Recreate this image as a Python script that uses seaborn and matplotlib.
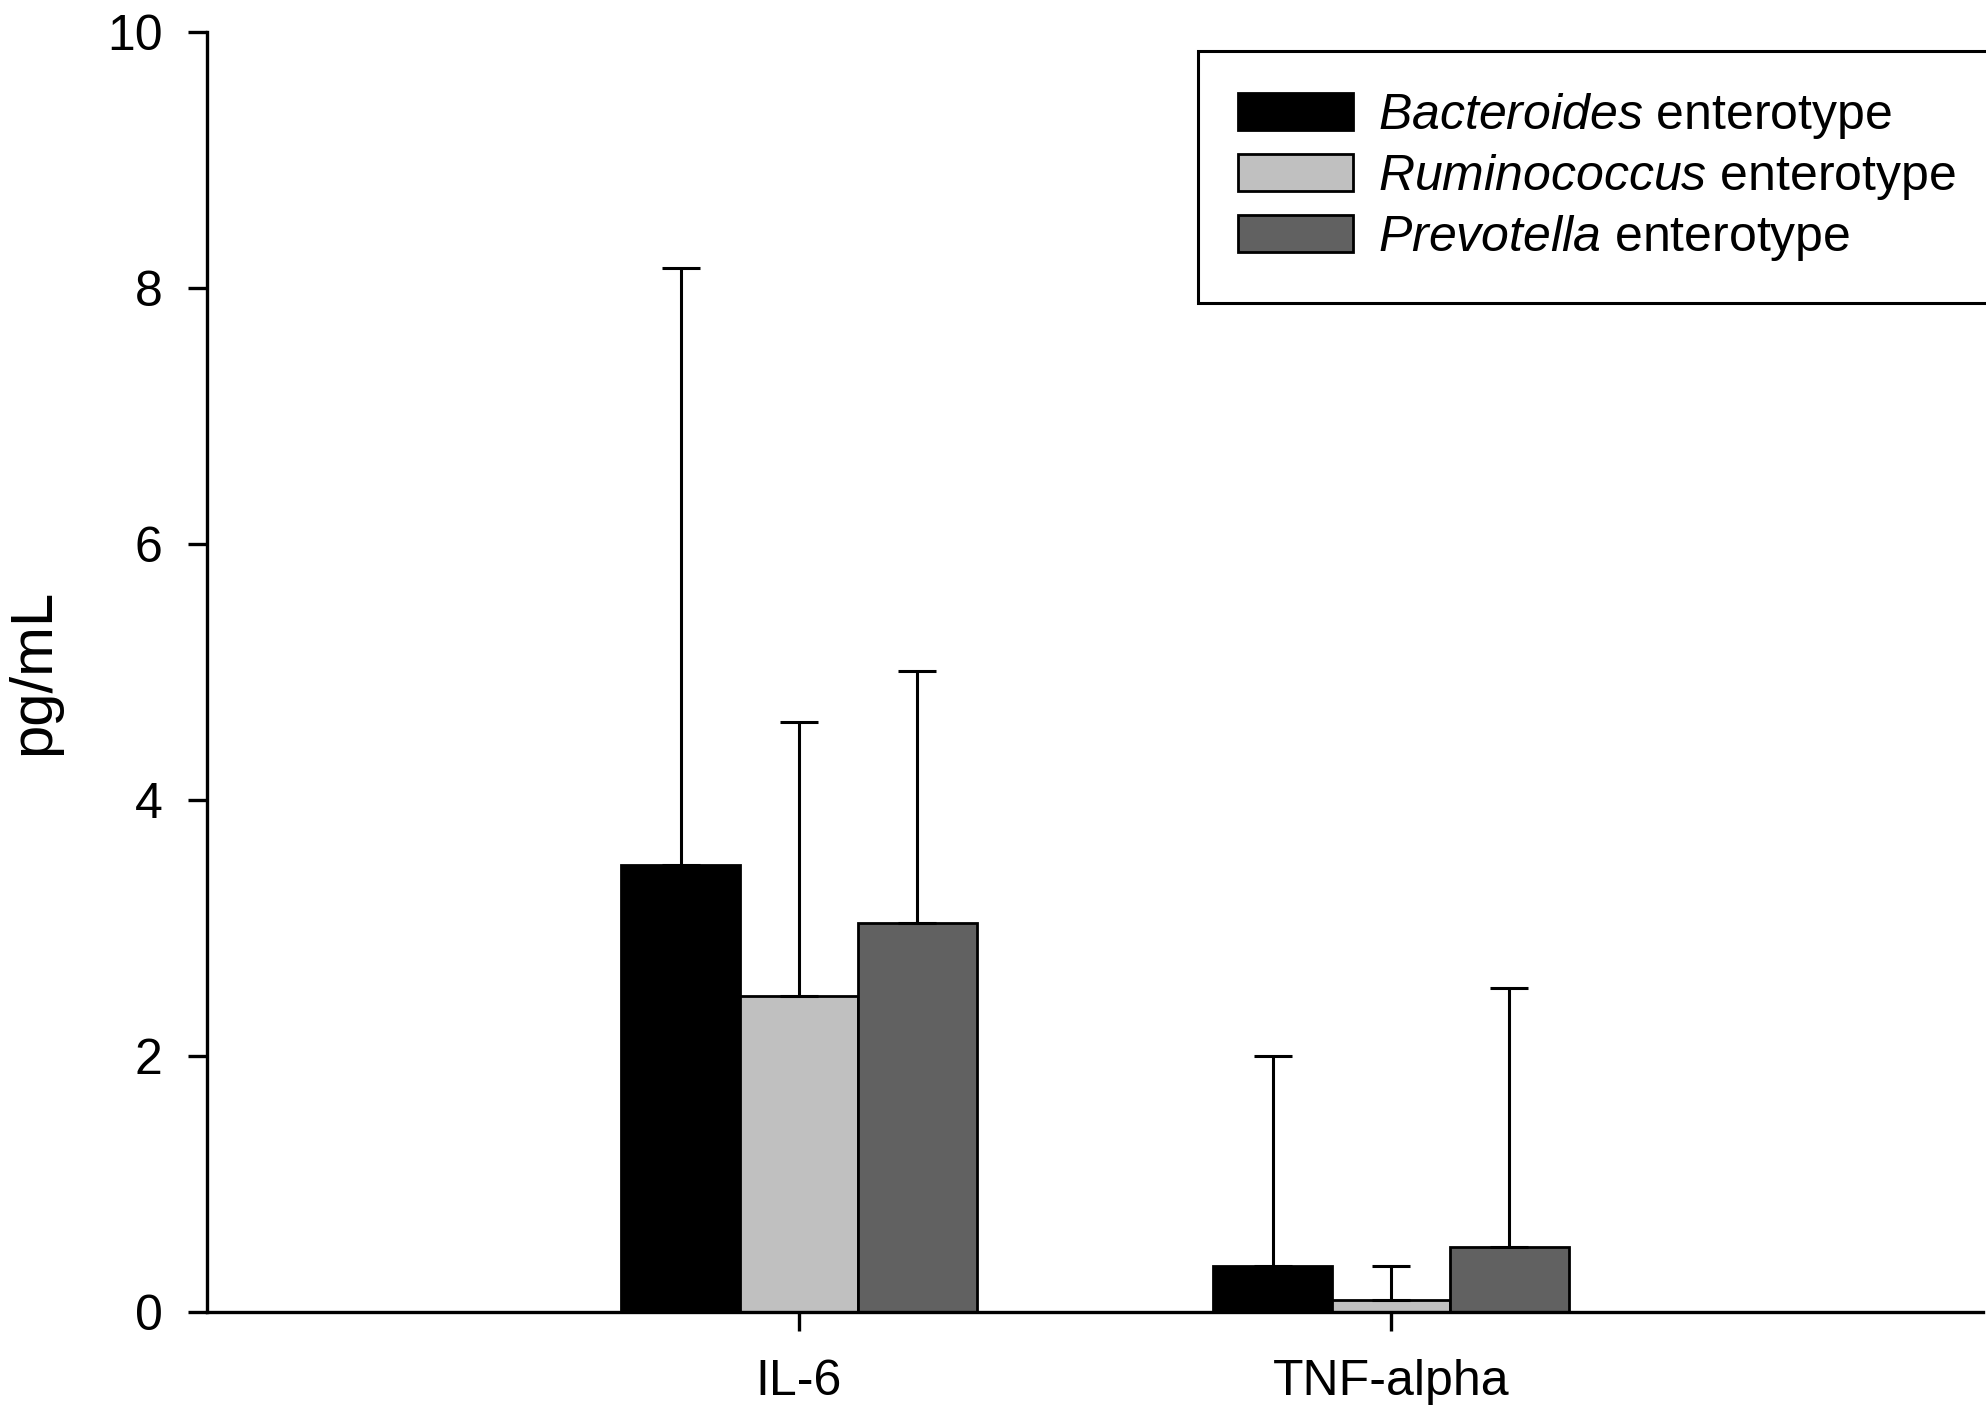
import numpy as np
import pandas as pd
import matplotlib
matplotlib.use("Agg")
import matplotlib.pyplot as plt
import seaborn as sns

# values (pg/mL, mean and upper SD)
cytokines = ["IL-6", "TNF-alpha"]
enterotypes = ["Bacteroides", "Ruminococcus", "Prevotella"]
bacteroides_mean = [3.49, 0.36]
ruminococcus_mean = [2.47, 0.09]
prevotella_mean = [3.04, 0.51]
bacteroides_sd = [4.67, 1.64]
ruminococcus_sd = [2.14, 0.27]
prevotella_sd = [1.97, 2.02]
bar_colors = ["#000000", "#c0c0c0", "#616161"]
y_ticks = [0, 2, 4, 6, 8, 10]

means = {"Bacteroides": bacteroides_mean, "Ruminococcus": ruminococcus_mean, "Prevotella": prevotella_mean}
sds = {"Bacteroides": bacteroides_sd, "Ruminococcus": ruminococcus_sd, "Prevotella": prevotella_sd}

rows = []
for ent in enterotypes:
    for i, cyt in enumerate(cytokines):
        rows.append({"cytokine": cyt, "enterotype": ent, "value": means[ent][i], "sd": sds[ent][i]})
df = pd.DataFrame(rows)

sns.set_style("ticks")
plt.rcParams["font.family"] = ["Liberation Sans", "DejaVu Sans"]
plt.rcParams["mathtext.fontset"] = "custom"
plt.rcParams["mathtext.rm"] = "Liberation Sans"
plt.rcParams["mathtext.it"] = "Liberation Sans:italic"
plt.rcParams["text.color"] = "black"
plt.rcParams["axes.labelcolor"] = "black"
plt.rcParams["xtick.color"] = "black"
plt.rcParams["ytick.color"] = "black"

fig = plt.figure(figsize=(19.86, 14.13), dpi=100)
ax = fig.add_axes([207 / 1986, 1 - 1312 / 1413, 1776 / 1986, 1280 / 1413])

sns.barplot(data=df, x="cytokine", y="value", hue="enterotype", order=cytokines,
            hue_order=enterotypes, palette=bar_colors, width=0.6, errorbar=None,
            edgecolor="black", linewidth=2, saturation=1, ax=ax)

# one-sided (upper) error bars on top of each bar
for ent, cont in zip(enterotypes, ax.containers):
    xs = [b.get_x() + b.get_width() / 2 for b in cont]
    hs = [b.get_height() for b in cont]
    ax.errorbar(xs, hs, yerr=[np.zeros(len(hs)), sds[ent]], fmt="none", ecolor="black",
                elinewidth=2.2, capsize=13.5, capthick=2.2, zorder=1)

ax.set_xlim(-1, 2)
ax.set_ylim(0, 10)
ax.set_yticks(y_ticks)
ax.set_xlabel("")
ax.set_ylabel("pg/mL", fontsize=43)
ax.yaxis.set_label_coords(-0.082, 0.5)
ax.tick_params(axis="both", labelsize=36, length=14, width=2.4, direction="out",
               color="black", labelcolor="black")
ax.tick_params(axis="y", pad=18)
ax.tick_params(axis="x", pad=20)
for s in ["left", "bottom"]:
    ax.spines[s].set_linewidth(2.4)
    ax.spines[s].set_color("black")
sns.despine(ax=ax)

handles, _ = ax.get_legend_handles_labels()
labels = ["$\\mathit{" + e + "}$ enterotype" for e in enterotypes]
ax.get_legend().remove()
leg = fig.legend(handles, labels, loc="upper left", bbox_to_anchor=(1198 / 1986, 0.5, 0.5, 1 - 51 / 1413 - 0.5),
                 bbox_transform=fig.transFigure, mode="expand", borderaxespad=0, fontsize=36,
                 frameon=True, fancybox=False, framealpha=1, edgecolor="black",
                 handlelength=2.3, handleheight=0.74, handletextpad=0.5, labelspacing=0.22,
                 borderpad=0.8)
leg.get_frame().set_linewidth(2.2)
for t in leg.get_texts():
    t.set_color("black")

fig.savefig("out.png", dpi=100)
